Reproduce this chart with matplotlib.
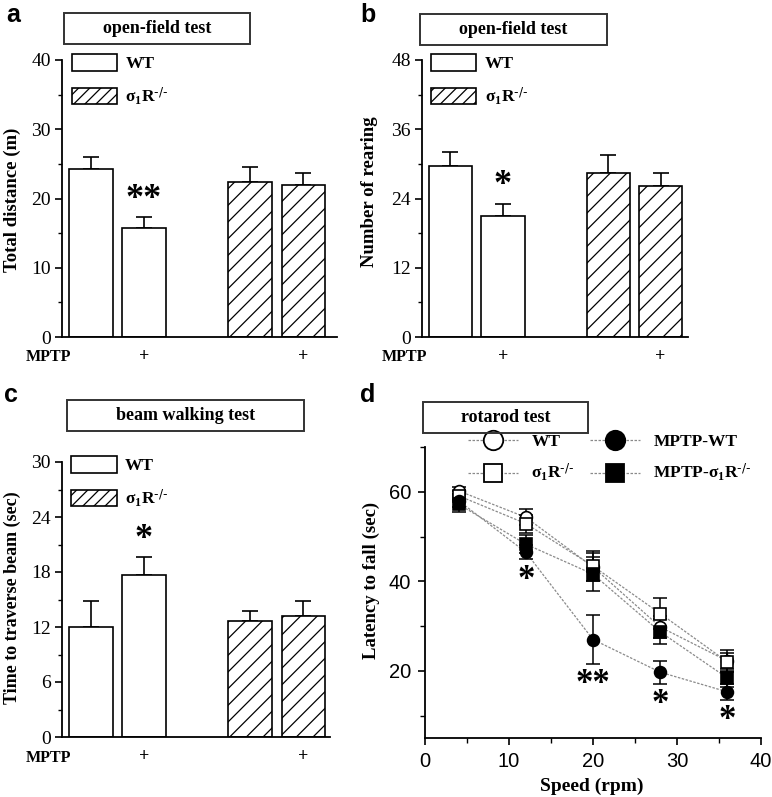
import matplotlib
matplotlib.use('Agg')
import matplotlib.pyplot as plt
import matplotlib.transforms as mtransforms
from matplotlib.patches import Patch, Rectangle
from matplotlib.lines import Line2D
import numpy as np

plt.rcParams['font.family'] = ['Liberation Serif', 'DejaVu Serif']
plt.rcParams['mathtext.default'] = 'regular'
plt.rcParams['hatch.linewidth'] = 0.9

W, H = 772, 797
SANS = 'Liberation Sans'
SIGMA = r'σ$_1$R$^{\text{-/-}}$'

# bar panels: WT, MPTP-WT, s1R-/-, MPTP-s1R-/-
bar_pos = [0, 1, 3, 4]
bar_hatch = ['', '', '//', '//']
mptp_marks = ['', '+', '', '+']

dist_mean = [24.2, 15.8, 22.4, 21.9]
dist_err = [1.8, 1.5, 2.2, 1.8]
dist_sig = ['', '**', '', '']

rear_mean = [29.7, 20.9, 28.5, 26.2]
rear_err = [2.4, 2.2, 3.0, 2.3]
rear_sig = ['', '*', '', '']

beam_mean = [12.0, 17.7, 12.7, 13.2]
beam_err = [2.8, 1.9, 1.0, 1.6]
beam_sig = ['', '*', '', '']

# rotarod
speed = [4, 12, 20, 28, 36]
rot_wt = [60.2, 54.3, 43.2, 29.8, 22.2]
rot_wt_err = [0.8, 1.8, 3.2, 2.4, 2.5]
rot_ko = [59.1, 52.9, 43.4, 32.8, 22.0]
rot_ko_err = [1.0, 2.0, 3.3, 3.4, 2.0]
rot_mwt = [58.0, 46.5, 27.0, 19.7, 15.3]
rot_mwt_err = [1.5, 1.6, 5.5, 2.6, 1.8]
rot_mko = [57.2, 48.3, 41.6, 28.7, 18.4]
rot_mko_err = [1.8, 2.0, 3.8, 2.8, 2.0]
rot_sig = ['', '*', '**', '*', '*']

fig = plt.figure(figsize=(W / 100, H / 100), dpi=100)


def px_axes(left, top, right, bottom):
    return fig.add_axes([left / W, 1 - bottom / H, (right - left) / W, (bottom - top) / H])


def title_box(x0, y0, x1, y1, text):
    fig.add_artist(Rectangle((x0 / W, 1 - y1 / H), (x1 - x0) / W, (y1 - y0) / H,
                             transform=fig.transFigure, fill=False, lw=1.4, ec='#333333'))
    fig.text((x0 + x1) / 2 / W, 1 - (y0 + y1) / 2 / H, text, ha='center', va='center',
             fontsize=13, fontweight='bold')


def fig_text(x, y, s, **kw):
    fig.text(x / W, 1 - y / H, s, **kw)


def bar_panel(ax, means, errs, sigs, ymax, step, xmax):
    ax.errorbar(bar_pos, means, yerr=[np.zeros(len(errs)), errs], fmt='none', ecolor='k',
                elinewidth=1.2, capsize=5.5, capthick=1.2, zorder=1)
    for x, m, h in zip(bar_pos, means, bar_hatch):
        ax.bar(x, m, width=0.82, color='white', edgecolor='k', lw=1.2, hatch=h, zorder=2)
    for x, m, e, s in zip(bar_pos, means, errs, sigs):
        if s:
            ax.annotate(s, xy=(x, m + e), xytext=(0, 1), textcoords='offset points',
                        ha='center', va='bottom', fontsize=26, fontweight='bold')
    ax.set_xlim(-0.54, xmax)
    ax.set_ylim(0, ymax)
    ax.set_yticks(np.arange(0, ymax + 0.1, step))
    ax.set_yticks(np.arange(step / 2, ymax, step), minor=True)
    ax.set_xticks([])
    for sp in ['top', 'right']:
        ax.spines[sp].set_visible(False)
    for sp in ['left', 'bottom']:
        ax.spines[sp].set_linewidth(1.3)
    ax.tick_params(axis='y', which='major', direction='out', length=5, width=1.2,
                   labelsize=14, pad=3)
    ax.tick_params(axis='y', which='minor', direction='out', length=3, width=1.0)
    trans = mtransforms.blended_transform_factory(ax.transData, ax.transAxes)
    for x, s in zip(bar_pos, mptp_marks):
        if s:
            ax.text(x, -0.072, s, transform=trans, ha='center', va='center',
                    fontsize=13, fontweight='bold')
    handles = [Patch(facecolor='white', edgecolor='k', lw=1.2),
               Patch(facecolor='white', edgecolor='k', lw=1.2, hatch='///')]
    leg = ax.legend(handles, ['WT', SIGMA], loc='upper left', bbox_to_anchor=(0.035, 1.02),
                    frameon=False, borderaxespad=0, borderpad=0, handlelength=2.6,
                    handleheight=1.05, handletextpad=0.5, labelspacing=0.75,
                    prop={'size': 12.5, 'weight': 'bold'})
    return leg


# panel a
ax_a = px_axes(62, 60, 337, 337)
bar_panel(ax_a, dist_mean, dist_err, dist_sig, 40, 10, 4.63)
title_box(64, 13, 250, 44, 'open-field test')
fig_text(12, 200, 'Total distance (m)', rotation=90, ha='center', va='center',
         fontsize=13.5, fontweight='bold')
fig_text(48, 357, 'MPTP', ha='center', va='center', fontsize=11.5, fontweight='bold')
fig_text(13, 15, 'a', ha='center', va='center', fontsize=18, fontweight='bold', family=SANS)

# panel b
ax_b = px_axes(422, 60, 688, 337)
bar_panel(ax_b, rear_mean, rear_err, rear_sig, 48, 12, 4.52)
title_box(420, 14, 607, 45, 'open-field test')
fig_text(370, 192, 'Number of rearing', rotation=90, ha='center', va='center',
         fontsize=13.5, fontweight='bold')
fig_text(404, 357, 'MPTP', ha='center', va='center', fontsize=11.5, fontweight='bold')
fig_text(368, 15, 'b', ha='center', va='center', fontsize=18, fontweight='bold', family=SANS)

# panel c
ax_c = px_axes(62, 462, 330, 737)
bar_panel(ax_c, beam_mean, beam_err, beam_sig, 30, 6, 4.5)
title_box(67, 400, 304, 431, 'beam walking test')
fig_text(12, 598, 'Time to traverse beam (sec)', rotation=90, ha='center', va='center',
         fontsize=13, fontweight='bold')
fig_text(48, 758, 'MPTP', ha='center', va='center', fontsize=11.5, fontweight='bold')
fig_text(11, 395, 'c', ha='center', va='center', fontsize=18, fontweight='bold', family=SANS)

# panel d
ax_d = px_axes(425, 447, 761, 738)
series = [
    (rot_wt, rot_wt_err, 'o', 'white', 'WT'),
    (rot_ko, rot_ko_err, 's', 'white', SIGMA),
    (rot_mwt, rot_mwt_err, 'o', 'black', 'MPTP-WT'),
    (rot_mko, rot_mko_err, 's', 'black', 'MPTP-' + SIGMA),
]
handles = []
for vals, errs, mk, fc, lab in series:
    ax_d.plot(speed, vals, ls=(0, (2, 1.2)), color='#8a8a8a', lw=0.9, zorder=1)
    ax_d.errorbar(speed, vals, yerr=errs, fmt='none', ecolor='k', elinewidth=1.1,
                  capsize=5, capthick=1.1, zorder=2)
    ax_d.plot(speed, vals, ls='none', marker=mk, ms=8.5 if mk == 'o' else 8,
              mfc=fc, mec='k', mew=1.2, zorder=3)
    handles.append(Line2D([], [], ls=(0, (2, 1.2)), color='#8a8a8a', lw=0.9, marker=mk,
                          ms=14 if mk == 'o' else 13, mfc=fc, mec='k', mew=1.3))
low = np.array(rot_mwt) - np.array(rot_mwt_err)
for x, y, s in zip(speed, low, rot_sig):
    if s:
        ax_d.annotate(s, xy=(x, y), xytext=(0, -3), textcoords='offset points',
                      ha='center', va='top', fontsize=25, fontweight='bold')
ax_d.set_xlim(0, 40)
ax_d.set_ylim(5, 70)
ax_d.set_xticks([0, 10, 20, 30, 40])
ax_d.set_xticks([5, 15, 25, 35], minor=True)
ax_d.set_yticks([20, 40, 60])
ax_d.set_yticks([10, 30, 50, 70], minor=True)
for sp in ['top', 'right']:
    ax_d.spines[sp].set_visible(False)
for sp in ['left', 'bottom']:
    ax_d.spines[sp].set_linewidth(1.3)
ax_d.tick_params(which='major', direction='out', length=5, width=1.2, labelsize=14.5, pad=5)
ax_d.tick_params(which='minor', direction='out', length=3.5, width=1.0)
for lab in ax_d.get_xticklabels() + ax_d.get_yticklabels():
    lab.set_family(SANS)
ax_d.legend(handles, [s[4] for s in series], ncol=2, loc='upper left',
            bbox_to_anchor=(0.128, 1.045), frameon=False, borderaxespad=0, borderpad=0,
            handlelength=2.9, handletextpad=0.75, columnspacing=0.9, labelspacing=0.7,
            prop={'size': 12.5, 'weight': 'bold'})
title_box(423, 402, 588, 433, 'rotarod test')
fig_text(371, 580, 'Latency to fall (sec)', rotation=90, ha='center', va='center',
         fontsize=13.5, fontweight='bold')
fig_text(592, 786, 'Speed (rpm)', ha='center', va='center', fontsize=14, fontweight='bold')
fig_text(368, 395, 'd', ha='center', va='center', fontsize=18, fontweight='bold', family=SANS)

fig.savefig('out.png', dpi=100)
